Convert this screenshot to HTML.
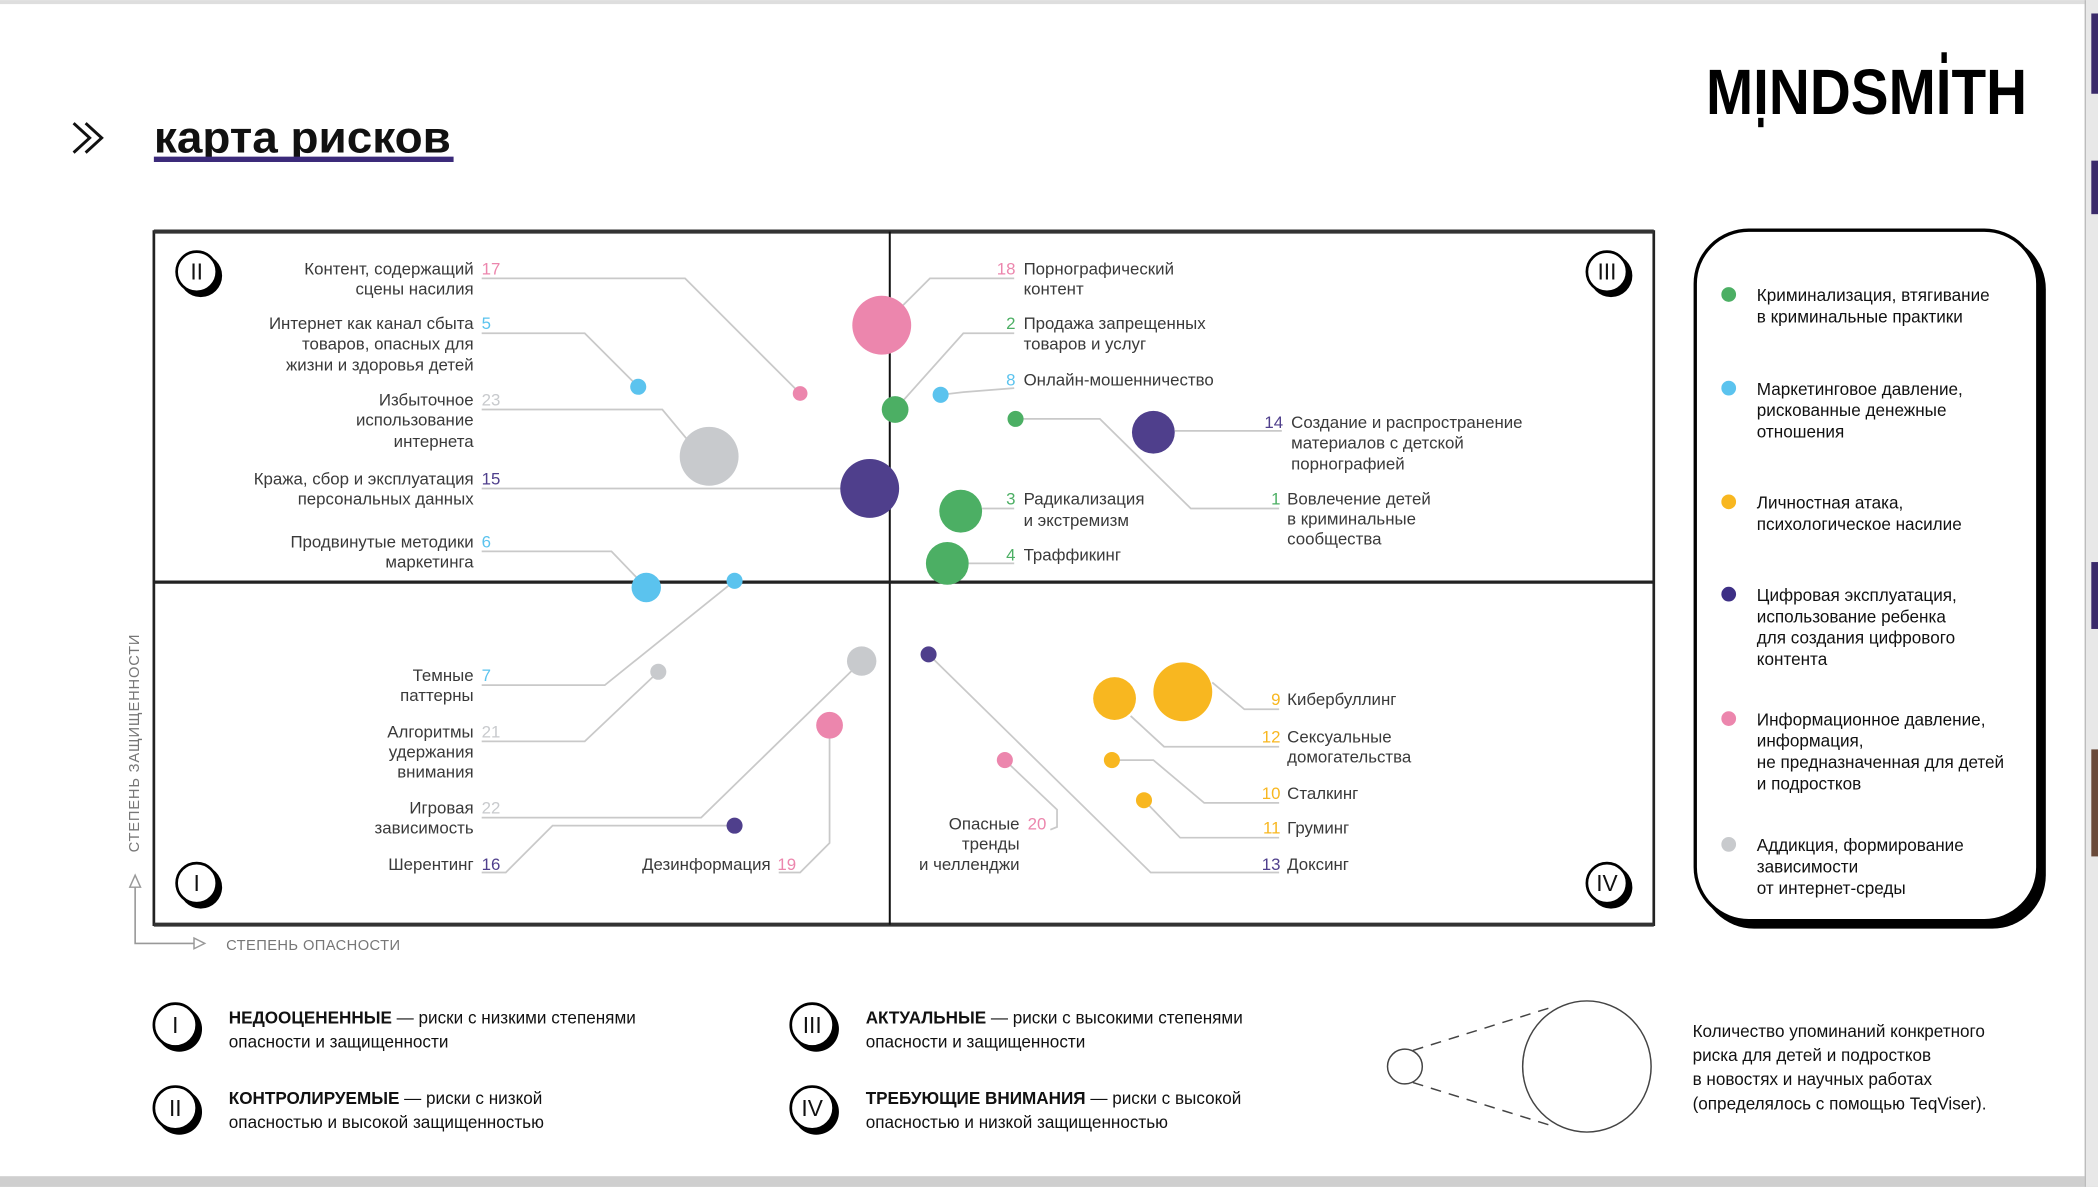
<!DOCTYPE html>
<html><head><meta charset="utf-8"><style>
html,body{margin:0;padding:0;background:#fff;}
svg{display:block;}
text{font-family:"Liberation Sans","Noto Sans CJK SC",sans-serif;}
.l{font-size:12.6px;fill:#3a3a3a;}
.r{text-anchor:end;}
.ln{stroke:#c9c9c9;stroke-width:1.3;fill:none;}
.lg{font-size:12.8px;fill:#111;}
.b{font-size:12.8px;fill:#111;}
</style></head><body>
<svg width="2098" height="1187" viewBox="0 0 1568 887" xmlns="http://www.w3.org/2000/svg">
<rect x="0" y="0" width="1568" height="887" fill="#fff"/>
<rect x="0" y="0" width="1568" height="3" fill="#dedede"/>
<rect x="0" y="879" width="1568" height="8" fill="#cfcfcf"/>
<rect x="1558" y="0" width="10" height="887" fill="#e8e8e8"/>
<line x1="1558.5" y1="0" x2="1558.5" y2="887" stroke="#bbb" stroke-width="1"/>
<rect x="1563" y="10" width="5" height="60" fill="#3a2a6a"/>
<rect x="1563" y="120" width="5" height="40" fill="#3a2a6a"/>
<rect x="1563" y="420" width="5" height="50" fill="#3a2a6a"/>
<rect x="1563" y="560" width="5" height="80" fill="#6a4a3a"/>

<!-- title -->
<path d="M55 92 L67 103 L55 114 M64 92 L76 103 L64 114" stroke="#111" stroke-width="2.2" fill="none"/>
<text x="115" y="114" font-size="33" font-weight="bold" fill="#111" textLength="222" lengthAdjust="spacingAndGlyphs">карта рисков</text>
<rect x="115" y="117" width="224" height="4" fill="#3b2a7a"/>

<!-- logo -->
<text x="1275" y="85" font-size="48" font-weight="bold" fill="#000" textLength="240" lengthAdjust="spacingAndGlyphs">MINDSMITH</text>
<rect x="1451" y="39" width="4" height="8" fill="#000"/>
<rect x="1314" y="88" width="4" height="7" fill="#000"/>

<!-- grid -->
<rect x="115" y="173" width="1121" height="518" fill="none" stroke="#222" stroke-width="2"/>
<line x1="115" y1="173" x2="1236" y2="173" stroke="#333" stroke-width="3"/>
<line x1="115" y1="691" x2="1236" y2="691" stroke="#333" stroke-width="3"/>
<line x1="665" y1="173" x2="665" y2="691" stroke="#111" stroke-width="1.5"/>
<line x1="115" y1="435" x2="1236" y2="435" stroke="#222" stroke-width="2.5"/>

<!-- badges -->
<g>
<circle cx="150" cy="206" r="16" fill="#000"/><circle cx="147" cy="203" r="15" fill="#fff" stroke="#000" stroke-width="2"/>
<text x="147" y="209" font-size="17" text-anchor="middle" fill="#111">II</text>
<circle cx="1204" cy="206" r="16" fill="#000"/><circle cx="1201" cy="203" r="15" fill="#fff" stroke="#000" stroke-width="2"/>
<text x="1201" y="209" font-size="17" text-anchor="middle" fill="#111">III</text>
<circle cx="150" cy="663" r="16" fill="#000"/><circle cx="147" cy="660" r="15" fill="#fff" stroke="#000" stroke-width="2"/>
<text x="147" y="666" font-size="17" text-anchor="middle" fill="#111">I</text>
<circle cx="1204" cy="663" r="16" fill="#000"/><circle cx="1201" cy="660" r="15" fill="#fff" stroke="#000" stroke-width="2"/>
<text x="1201" y="666" font-size="17" text-anchor="middle" fill="#111">IV</text>
</g>

<!-- leader lines -->
<polyline class="ln" points="360,208 512,208 598,294"/>
<polyline class="ln" points="360,249 437,249 477,289"/>
<polyline class="ln" points="360,306 495,306 515,330"/>
<polyline class="ln" points="360,365 630,365"/>
<polyline class="ln" points="360,412 457,412 483,439"/>
<polyline class="ln" points="360,512 452,512 549,434"/>
<polyline class="ln" points="360,554 437,554 492,502"/>
<polyline class="ln" points="360,611 524,611 644,494"/>
<polyline class="ln" points="360,652 378,652 413,617 549,617"/>
<polyline class="ln" points="582,652 598,652 620,630 620,542"/>
<polyline class="ln" points="758,208 695,208 675,228"/>
<polyline class="ln" points="758,249 720,249 669,306"/>
<polyline class="ln" points="758,290 720,293 703,295"/>
<polyline class="ln" points="878,322 958,322"/>
<polyline class="ln" points="759,313 822,313 890,380 956,380"/>
<polyline class="ln" points="734,380 758,380"/>
<polyline class="ln" points="724,421 758,421"/>
<polyline class="ln" points="906,510 930,530 956,530"/>
<polyline class="ln" points="845,535 870,558 956,558"/>
<polyline class="ln" points="831,568 862,568 900,600 956,600"/>
<polyline class="ln" points="855,598 882,626 956,626"/>
<polyline class="ln" points="694,489 860,652 956,652"/>
<polyline class="ln" points="751,568 790,605 790,618 785,620"/>

<!-- bubbles -->
<g>
<circle cx="659" cy="243" r="22" fill="#ec86ad"/>
<circle cx="598" cy="294" r="5.5" fill="#ec86ad"/>
<circle cx="477" cy="289" r="6" fill="#5bc3ee"/>
<circle cx="530" cy="341" r="22" fill="#c8cacd"/>
<circle cx="650" cy="365" r="22" fill="#4f3f8c"/>
<circle cx="483" cy="439" r="11" fill="#5bc3ee"/>
<circle cx="549" cy="434" r="6" fill="#5bc3ee"/>
<circle cx="669" cy="306" r="10" fill="#4caf64"/>
<circle cx="703" cy="295" r="6" fill="#5bc3ee"/>
<circle cx="759" cy="313" r="6" fill="#4caf64"/>
<circle cx="862" cy="323" r="16" fill="#4f3f8c"/>
<circle cx="718" cy="382" r="16" fill="#4caf64"/>
<circle cx="708" cy="421" r="16" fill="#4caf64"/>
<circle cx="492" cy="502" r="6" fill="#c8cacd"/>
<circle cx="644" cy="494" r="11" fill="#c8cacd"/>
<circle cx="620" cy="542" r="10" fill="#ec86ad"/>
<circle cx="549" cy="617" r="6" fill="#4f3f8c"/>
<circle cx="694" cy="489" r="6" fill="#4f3f8c"/>
<circle cx="833" cy="522" r="16" fill="#f8b720"/>
<circle cx="884" cy="517" r="22" fill="#f8b720"/>
<circle cx="751" cy="568" r="6" fill="#ec86ad"/>
<circle cx="831" cy="568" r="6" fill="#f8b720"/>
<circle cx="855" cy="598" r="6" fill="#f8b720"/>
</g>

<!-- left labels -->
<g class="l">
<text class="r" x="354" y="205">Контент, содержащий</text><text x="360" y="205" fill="#ec86ad">17</text>
<text class="r" x="354" y="220">сцены насилия</text>
<text class="r" x="354" y="246">Интернет как канал сбыта</text><text x="360" y="246" fill="#5bc3ee">5</text>
<text class="r" x="354" y="261">товаров, опасных для</text>
<text class="r" x="354" y="277">жизни и здоровья детей</text>
<text class="r" x="354" y="303">Избыточное</text><text x="360" y="303" fill="#c8cacd">23</text>
<text class="r" x="354" y="318">использование</text>
<text class="r" x="354" y="334">интернета</text>
<text class="r" x="354" y="362">Кража, сбор и эксплуатация</text><text x="360" y="362" fill="#4f3f8c">15</text>
<text class="r" x="354" y="377">персональных данных</text>
<text class="r" x="354" y="409">Продвинутые методики</text><text x="360" y="409" fill="#5bc3ee">6</text>
<text class="r" x="354" y="424">маркетинга</text>
<text class="r" x="354" y="509">Темные</text><text x="360" y="509" fill="#5bc3ee">7</text>
<text class="r" x="354" y="524">паттерны</text>
<text class="r" x="354" y="551">Алгоритмы</text><text x="360" y="551" fill="#c8cacd">21</text>
<text class="r" x="354" y="566">удержания</text>
<text class="r" x="354" y="581">внимания</text>
<text class="r" x="354" y="608">Игровая</text><text x="360" y="608" fill="#c8cacd">22</text>
<text class="r" x="354" y="623">зависимость</text>
<text class="r" x="354" y="650">Шерентинг</text><text x="360" y="650" fill="#4f3f8c">16</text>
<text class="r" x="576" y="650">Дезинформация</text><text x="581" y="650" fill="#ec86ad">19</text>
</g>
<!-- right labels -->
<g class="l">
<text class="r" x="759" y="205" fill="#ec86ad">18</text><text x="765" y="205">Порнографический</text>
<text x="765" y="220">контент</text>
<text class="r" x="759" y="246" fill="#4caf64">2</text><text x="765" y="246">Продажа запрещенных</text>
<text x="765" y="261">товаров и услуг</text>
<text class="r" x="759" y="288" fill="#5bc3ee">8</text><text x="765" y="288">Онлайн-мошенничество</text>
<text class="r" x="959" y="320" fill="#4f3f8c">14</text><text x="965" y="320">Создание и распространение</text>
<text x="965" y="335">материалов с детской</text>
<text x="965" y="351">порнографией</text>
<text class="r" x="957" y="377" fill="#4caf64">1</text><text x="962" y="377">Вовлечение детей</text>
<text x="962" y="392">в криминальные</text>
<text x="962" y="407">сообщества</text>
<text class="r" x="759" y="377" fill="#4caf64">3</text><text x="765" y="377">Радикализация</text>
<text x="765" y="393">и экстремизм</text>
<text class="r" x="759" y="419" fill="#4caf64">4</text><text x="765" y="419">Траффикинг</text>
<text class="r" x="957" y="527" fill="#f8b720">9</text><text x="962" y="527">Кибербуллинг</text>
<text class="r" x="957" y="555" fill="#f8b720">12</text><text x="962" y="555">Сексуальные</text>
<text x="962" y="570">домогательства</text>
<text class="r" x="957" y="597" fill="#f8b720">10</text><text x="962" y="597">Сталкинг</text>
<text class="r" x="957" y="623" fill="#f8b720">11</text><text x="962" y="623">Груминг</text>
<text class="r" x="957" y="650" fill="#4f3f8c">13</text><text x="962" y="650">Доксинг</text>
<text class="r" x="762" y="620">Опасные</text><text x="768" y="620" fill="#ec86ad">20</text>
<text class="r" x="762" y="635">тренды</text>
<text class="r" x="762" y="650">и челленджи</text>
</g>

<!-- axes -->
<polyline points="101,660 101,705 150,705" fill="none" stroke="#999" stroke-width="1.2"/>
<path d="M97 663 L101 654 L105 663 Z" fill="#fff" stroke="#999" stroke-width="1.1"/>
<path d="M145 701 L153 705 L145 709 Z" fill="#fff" stroke="#999" stroke-width="1.1"/>
<text x="169" y="710" font-size="11" fill="#777" letter-spacing="0.3">СТЕПЕНЬ ОПАСНОСТИ</text>
<text transform="translate(104,637) rotate(-90)" font-size="11" fill="#777" letter-spacing="0.6">СТЕПЕНЬ ЗАЩИЩЕННОСТИ</text>

<!-- legend box -->
<rect x="1271" y="176" width="258" height="518" rx="40" fill="#000"/>
<rect x="1267" y="172" width="256" height="516" rx="40" fill="#fff" stroke="#000" stroke-width="2.5"/>
<g class="lg">
<circle cx="1292" cy="220" r="5.5" fill="#4caf64"/>
<text x="1313" y="225">Криминализация, втягивание</text><text x="1313" y="241">в криминальные практики</text>
<circle cx="1292" cy="290" r="5.5" fill="#5bc3ee"/>
<text x="1313" y="295">Маркетинговое давление,</text><text x="1313" y="311">рискованные денежные</text><text x="1313" y="327">отношения</text>
<circle cx="1292" cy="375" r="5.5" fill="#f8b720"/>
<text x="1313" y="380">Личностная атака,</text><text x="1313" y="396">психологическое насилие</text>
<circle cx="1292" cy="444" r="5.5" fill="#3d2f85"/>
<text x="1313" y="449">Цифровая эксплуатация,</text><text x="1313" y="465">использование ребенка</text><text x="1313" y="481">для создания цифрового</text><text x="1313" y="497">контента</text>
<circle cx="1292" cy="537" r="5.5" fill="#ec86ad"/>
<text x="1313" y="542">Информационное давление,</text><text x="1313" y="558">информация,</text><text x="1313" y="574">не предназначенная для детей</text><text x="1313" y="590">и подростков</text>
<circle cx="1292" cy="631" r="5.5" fill="#c8cacd"/>
<text x="1313" y="636">Аддикция, формирование</text><text x="1313" y="652">зависимости</text><text x="1313" y="668">от интернет-среды</text>
</g>

<!-- bottom legend -->
<g>
<circle cx="134" cy="769" r="17" fill="#000"/><circle cx="131" cy="766" r="16" fill="#fff" stroke="#000" stroke-width="2"/>
<text x="131" y="772" font-size="17" text-anchor="middle" fill="#111">I</text>
<circle cx="134" cy="831" r="17" fill="#000"/><circle cx="131" cy="828" r="16" fill="#fff" stroke="#000" stroke-width="2"/>
<text x="131" y="834" font-size="17" text-anchor="middle" fill="#111">II</text>
<circle cx="610" cy="769" r="17" fill="#000"/><circle cx="607" cy="766" r="16" fill="#fff" stroke="#000" stroke-width="2"/>
<text x="607" y="772" font-size="17" text-anchor="middle" fill="#111">III</text>
<circle cx="610" cy="831" r="17" fill="#000"/><circle cx="607" cy="828" r="16" fill="#fff" stroke="#000" stroke-width="2"/>
<text x="607" y="834" font-size="17" text-anchor="middle" fill="#111">IV</text>
</g>
<g class="b">
<text x="171" y="765"><tspan font-weight="bold">НЕДООЦЕНЕННЫЕ</tspan> — риски с низкими степенями</text>
<text x="171" y="783">опасности и защищенности</text>
<text x="171" y="825"><tspan font-weight="bold">КОНТРОЛИРУЕМЫЕ</tspan> — риски с низкой</text>
<text x="171" y="843">опасностью и высокой защищенностью</text>
<text x="647" y="765"><tspan font-weight="bold">АКТУАЛЬНЫЕ</tspan> — риски с высокими степенями</text>
<text x="647" y="783">опасности и защищенности</text>
<text x="647" y="825"><tspan font-weight="bold">ТРЕБУЮЩИЕ ВНИМАНИЯ</tspan> — риски с высокой</text>
<text x="647" y="843">опасностью и низкой защищенностью</text>
</g>

<!-- size cone -->
<circle cx="1050" cy="797" r="13" fill="#fff" stroke="#444" stroke-width="1.1"/>
<ellipse cx="1186" cy="797" rx="48" ry="49" fill="#fff" stroke="#444" stroke-width="1.1"/>
<line x1="1056" y1="785" x2="1162" y2="752" stroke="#444" stroke-width="1.1" stroke-dasharray="8,6"/>
<line x1="1056" y1="809" x2="1162" y2="842" stroke="#444" stroke-width="1.1" stroke-dasharray="8,6"/>
<g class="b">
<text x="1265" y="775">Количество упоминаний конкретного</text>
<text x="1265" y="793">риска для детей и подростков</text>
<text x="1265" y="811">в новостях и научных работах</text>
<text x="1265" y="829">(определялось с помощью TeqViser).</text>
</g>
</svg>
</body></html>
